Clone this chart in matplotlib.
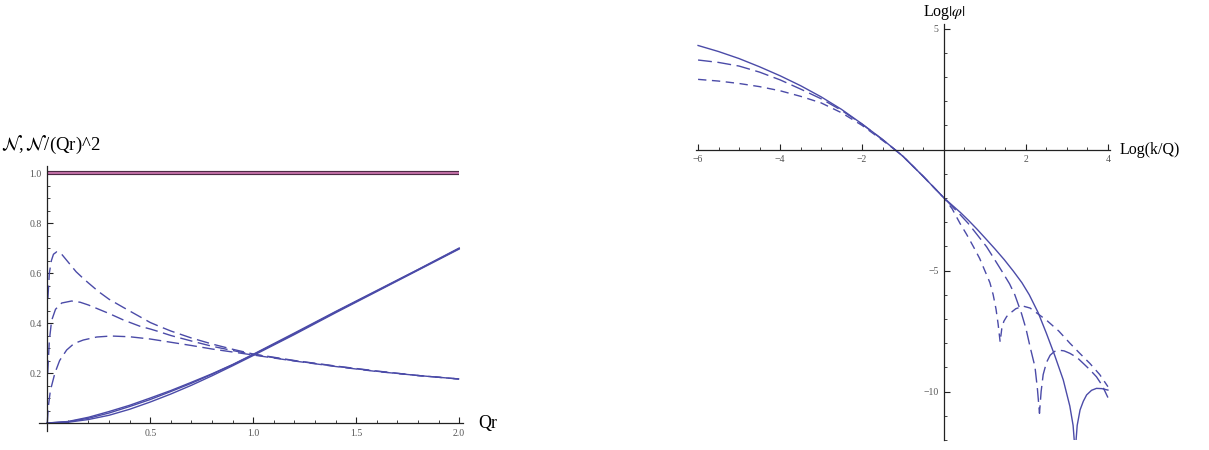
import numpy as np
import matplotlib
matplotlib.use("Agg")
import matplotlib.pyplot as plt
from matplotlib.ticker import MultipleLocator, FixedLocator

plt.rcParams['font.family'] = ['Liberation Serif', 'DejaVu Serif']
plt.rcParams['mathtext.fontset'] = 'stix'

BLUE = '#4b4ba8'
GRAY = '#555555'

# Left panel data: N (solid) and N/(Qr)^2 (dashed)
qr_solid = [0, 0.1, 0.2, 0.3, 0.4, 0.5, 0.6, 0.7, 0.8, 0.9, 1.0, 1.2, 1.4, 1.6, 1.8, 2.0]
N_a = [0, 0.006, 0.023, 0.046, 0.071, 0.100, 0.130, 0.163, 0.197, 0.234, 0.275, 0.360, 0.446, 0.530, 0.614, 0.700]
N_b = [0, 0.005, 0.019, 0.040, 0.066, 0.094, 0.126, 0.159, 0.195, 0.233, 0.273, 0.357, 0.444, 0.528, 0.613, 0.698]
N_c = [0, 0.003, 0.014, 0.031, 0.055, 0.084, 0.116, 0.151, 0.189, 0.229, 0.270, 0.354, 0.441, 0.526, 0.611, 0.696]

qr_a = [0.003, 0.01, 0.02, 0.03, 0.046, 0.07, 0.1, 0.14, 0.175, 0.2, 0.25, 0.3, 0.37, 0.45,
        0.5, 0.54, 0.6, 0.7, 0.8, 0.9, 1.0, 1.2, 1.4, 1.6, 1.8, 2.0]
R_a = [0.50, 0.60, 0.65, 0.675, 0.685, 0.675, 0.645, 0.605, 0.578, 0.56, 0.525, 0.495, 0.462, 0.425,
       0.402, 0.388, 0.368, 0.340, 0.316, 0.295, 0.276, 0.250, 0.228, 0.208, 0.190, 0.176]

qr_b = [0.002, 0.01, 0.021, 0.04, 0.07, 0.118, 0.16, 0.2, 0.25, 0.3, 0.37, 0.45, 0.5, 0.54,
        0.6, 0.7, 0.8, 0.9, 1.0, 1.2, 1.4, 1.6, 1.8, 2.0]
R_b = [0.20, 0.33, 0.41, 0.455, 0.48, 0.488, 0.483, 0.472, 0.455, 0.438, 0.412, 0.387, 0.376, 0.366,
       0.350, 0.328, 0.307, 0.290, 0.274, 0.249, 0.227, 0.207, 0.190, 0.176]

qr_c = [0.0, 0.005, 0.015, 0.037, 0.06, 0.094, 0.13, 0.175, 0.24, 0.31, 0.4, 0.5, 0.6, 0.7,
        0.8, 0.9, 1.0, 1.2, 1.4, 1.6, 1.8, 2.0]
R_c = [0.0, 0.065, 0.13, 0.20, 0.25, 0.292, 0.318, 0.332, 0.344, 0.348, 0.345, 0.336, 0.323, 0.310,
       0.296, 0.284, 0.272, 0.248, 0.226, 0.206, 0.190, 0.176]

qr_limit = [0.0, 2.0]
R_limit = [1.0, 1.0]

# Right panel data: Log|phi| vs Log(k/Q)
lk_solid = [-6, -5.5, -5, -4.5, -4, -3.5, -3, -2.5, -2, -1.5, -1.2, -1, -0.5, 0,
            0.2, 0.4, 0.6, 0.8, 1.0, 1.24, 1.47, 1.69, 1.9, 2.08, 2.3, 2.5, 2.7, 2.91, 3.07,
            3.15, 3.2, 3.25, 3.32, 3.4, 3.48, 3.6, 3.72, 3.85, 4.0]
lphi_solid = [4.3, 4.05, 3.76, 3.42, 3.05, 2.64, 2.18, 1.66, 1.06, 0.42, 0.0, -0.28, -1.12, -2.0,
              -2.3, -2.6, -2.93, -3.28, -3.65, -4.1, -4.55, -5.02, -5.5, -6.0, -6.75, -7.6,
              -8.5, -9.52, -10.6, -11.4, -12.5, -11.4, -10.76, -10.4, -10.14, -9.95, -9.87,
              -9.88, -9.94]

lk_long = [-6, -5.5, -5, -4.5, -4, -3.5, -3, -2.5, -2, -1.5, -1.2, -1, -0.5, 0,
           0.2, 0.4, 0.59, 0.8, 1.04, 1.2, 1.41, 1.6, 1.73, 1.89, 2.0, 2.1, 2.22, 2.28, 2.33,
           2.37, 2.42, 2.5, 2.59, 2.69, 2.79, 2.93, 3.07, 3.25, 3.4, 3.56, 3.72, 3.86, 4.0]
lphi_long = [3.7, 3.6, 3.45, 3.2, 2.88, 2.5, 2.1, 1.62, 1.05, 0.41, 0.0, -0.28, -1.12, -2.0,
             -2.35, -2.7, -3.05, -3.5, -4.02, -4.45, -5.02, -5.55, -6.01, -6.77, -7.4, -8.15,
             -8.98, -9.9, -10.9, -10.0, -9.3, -8.8, -8.5, -8.35, -8.29, -8.32, -8.42, -8.6,
             -8.84, -9.1, -9.39, -9.75, -10.25]

lk_short = [-6, -5.5, -5, -4.5, -4, -3.5, -3, -2.5, -2, -1.5, -1.2, -1, -0.5, 0,
            0.2, 0.39, 0.55, 0.72, 0.87, 1.0, 1.12, 1.2, 1.27, 1.32, 1.37, 1.41, 1.46, 1.53,
            1.61, 1.75, 1.93, 2.1, 2.3, 2.5, 2.8, 3.07, 3.3, 3.56, 3.8, 4.0]
lphi_short = [2.9, 2.83, 2.73, 2.6, 2.43, 2.2, 1.93, 1.52, 1.0, 0.38, 0.0, -0.28, -1.12, -2.0,
              -2.45, -3.05, -3.5, -4.02, -4.5, -5.02, -5.5, -6.0, -6.6, -7.2, -7.95, -7.4,
              -7.1, -6.9, -6.77, -6.58, -6.47, -6.55, -6.8, -7.05, -7.5, -8.0, -8.4, -8.84,
              -9.3, -9.8]

fig = plt.figure(figsize=(12.09, 4.5), dpi=100)

# ---- left panel ----
ax1 = fig.add_axes([0.0323, 0.0433, 0.3509, 0.5889])
ax1.plot(qr_limit, R_limit, color='#4d2a45', lw=3.0, solid_capstyle='butt')
ax1.plot(qr_limit, R_limit, color='#c26fa6', lw=1.4, solid_capstyle='butt')
for N in (N_a, N_b, N_c):
    ax1.plot(qr_solid, N, color=BLUE, lw=1.0)
for x, r in ((qr_a, R_a), (qr_b, R_b), (qr_c, R_c)):
    ax1.plot(x, r, color=BLUE, lw=1.0, dashes=(9, 4))

ax1.set_xlim(-0.04, 2.02)
ax1.set_ylim(-0.03, 1.03)
ax1.spines['left'].set_position(('data', 0))
ax1.spines['bottom'].set_position(('data', 0))
ax1.spines['top'].set_visible(False)
ax1.spines['right'].set_visible(False)
ax1.xaxis.set_major_locator(FixedLocator([0.5, 1.0, 1.5, 2.0]))
ax1.xaxis.set_minor_locator(MultipleLocator(0.1))
ax1.yaxis.set_major_locator(FixedLocator([0.2, 0.4, 0.6, 0.8, 1.0]))
ax1.yaxis.set_minor_locator(MultipleLocator(0.05))
ax1.set_xticklabels(['0.5', '1.0', '1.5', '2.0'])
ax1.set_yticklabels(['0.2', '0.4', '0.6', '0.8', '1.0'])

fig.text(0.0835, 0.678, r'$\mathcal{N}$,$\,\mathcal{N}$/(Qr)^2', ha='right', va='center', fontsize=13.5)
fig.text(0.3954, 0.0578, 'Qr', ha='left', va='center', fontsize=13)

# ---- right panel ----
ax2 = fig.add_axes([0.5757, 0.0224, 0.3424, 0.9249])
ax2.plot(lk_solid, lphi_solid, color=BLUE, lw=1.0)
ax2.plot(lk_long, lphi_long, color=BLUE, lw=1.0, dashes=(10, 4))
ax2.plot(lk_short, lphi_short, color=BLUE, lw=1.0, dashes=(6, 4))

ax2.set_xlim(-6.05, 4.05)
ax2.set_ylim(-12, 5.2)
ax2.spines['left'].set_position(('data', 0))
ax2.spines['bottom'].set_position(('data', 0))
ax2.spines['top'].set_visible(False)
ax2.spines['right'].set_visible(False)
ax2.xaxis.set_major_locator(FixedLocator([-6, -4, -2, 2, 4]))
ax2.xaxis.set_minor_locator(MultipleLocator(0.5))
ax2.yaxis.set_major_locator(FixedLocator([5, -5, -10]))
ax2.yaxis.set_minor_locator(MultipleLocator(1))
ax2.set_xticklabels(['\u22126', '\u22124', '\u22122', '2', '4'])
ax2.set_yticklabels(['5', '\u22125', '\u221210'])

fig.text(0.7816, 0.973, r'Log$|\varphi|$', ha='center', va='center', fontsize=11.5)
fig.text(0.9264, 0.667, 'Log(k/Q)', ha='left', va='center', fontsize=11.5)

for ax in (ax1, ax2):
    ax.patch.set_visible(False)
    for s in ('left', 'bottom'):
        ax.spines[s].set_linewidth(0.9)
        ax.spines[s].set_color('#222222')
    ax.tick_params(which='major', direction='in', length=4, width=0.8, color='#222222',
                   labelsize=7, labelcolor=GRAY, pad=4)
    ax.tick_params(which='minor', direction='in', length=2.5, width=0.6, color='#222222')

fig.savefig('out.png', dpi=100)
